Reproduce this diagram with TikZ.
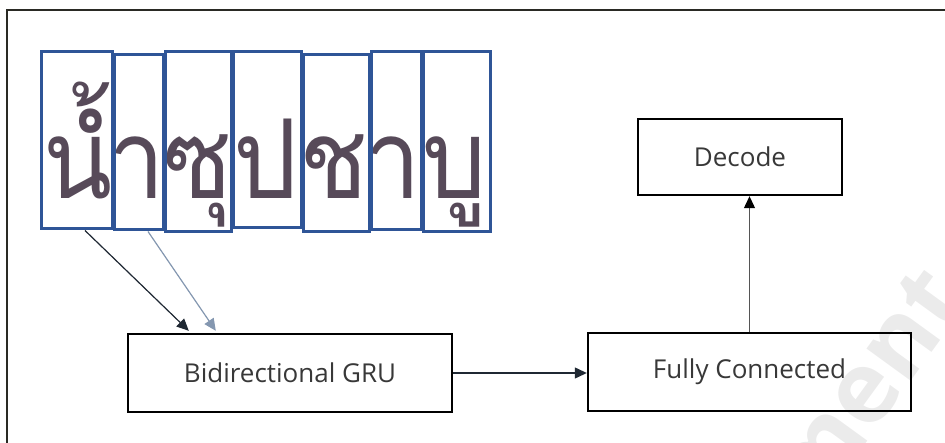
\documentclass[tikz,border=0pt]{standalone}
\usepackage{fontspec}
\setmainfont{Open Sans}
\newfontfamily\thaifont[Script=Thai]{Loma}
\usetikzlibrary{arrows.meta,calc}
\definecolor{boxblue}{HTML}{2F5597}
\definecolor{ink}{HTML}{3A2A3C}
\definecolor{labelgray}{HTML}{383838}
\definecolor{framecol}{HTML}{2A2A24}
\definecolor{arrowdark}{HTML}{1F2833}
\definecolor{arrowblue}{HTML}{8497B0}
\definecolor{linegray}{HTML}{555555}
\tikzset{
  charbox/.style={draw=boxblue, line width=3pt, inner sep=0pt},
  stage/.style={draw=black, line width=2.4pt, inner sep=0pt,
    font=\fontsize{26}{30}\selectfont, text=labelgray},
  glyph/.style={anchor=base, inner sep=0pt, text=ink!85,
    font=\thaifont\fontsize{110}{110}\selectfont},
  flow/.style={line width=1.2pt, -{Triangle[length=12pt,width=11pt]}},
}
\begin{document}
\begin{tikzpicture}[x=1pt,y=-1pt]
\useasboundingbox (0,0) rectangle (945,443);

% faint watermark
\node[rotate=54, text=black!8, font=\bfseries\fontsize{100}{100}\selectfont] (wm) at (866,388) {ment};

% outer frame
\draw[framecol, line width=2pt] (7,443) -- (7,10) -- (945,10);

% handwritten word, one cluster per segment
\node[glyph, xscale=0.92] (g1) at (78,199) {น^^^^0e4d^^^^0e49};
\node[glyph, xscale=0.92] (g2) at (137,199) {า};
\node[glyph, xscale=0.92] (g3) at (198,199) {ซุ};
\node[glyph, xscale=0.92] (g4) at (266,199) {ป};
\node[glyph, xscale=0.92] (g5) at (334,199) {ช};
\node[glyph, xscale=0.92] (g6) at (393,199) {า};
\node[glyph, xscale=0.92] (g7) at (455,199) {บู};

% character segments
\node[charbox, minimum width=71pt, minimum height=177pt] (c1) at (76.5,140.5) {};
\node[charbox, minimum width=49pt, minimum height=175pt] (c2) at (138.5,142.5) {};
\node[charbox, minimum width=66pt, minimum height=180pt] (c3) at (198,142) {};
\node[charbox, minimum width=68pt, minimum height=176pt] (c4) at (267,140) {};
\node[charbox, minimum width=66pt, minimum height=177pt] (c5) at (336,143.5) {};
\node[charbox, minimum width=50pt, minimum height=178pt] (c6) at (396,141) {};
\node[charbox, minimum width=67pt, minimum height=180pt] (c7) at (456.5,142) {};

% processing stages
\node[stage, minimum width=324pt, minimum height=78pt] (gru) at (290,373) {Bidirectional GRU};
\node[stage, minimum width=323pt, minimum height=78pt] (fc) at (749.5,372) {Fully Connected};
\node[stage, minimum width=204pt, minimum height=76pt] (dec) at (740,157) {Decode};

% connectors
\draw[flow, draw=arrowdark, fill=arrowdark] ($(c1.south)+(8.5,0)$) -- ($(gru.north west)+(62,-2)$);
\draw[flow, draw=arrowblue, fill=arrowblue] ($(c2.south)+(9.5,0)$) -- ($(gru.north west)+(89,-2)$);
\draw[flow, draw=arrowdark] (gru.east) -- (gru.east -| fc.west);
\draw[flow, draw=linegray, -{Triangle[length=12pt,width=11pt,fill=black,color=black]}] (fc.north) -- (fc.north |- dec.south);
\end{tikzpicture}
\end{document}
